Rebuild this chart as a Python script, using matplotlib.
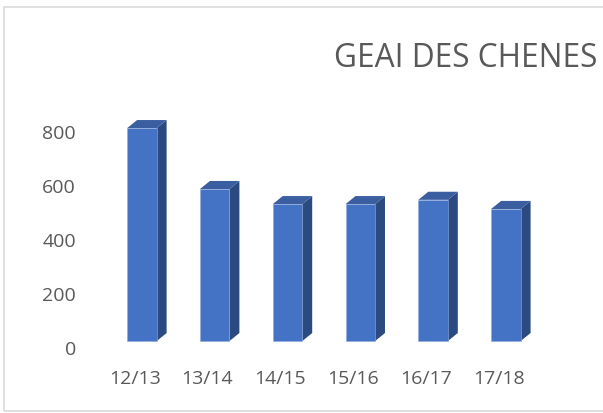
import matplotlib
matplotlib.use("Agg")
import matplotlib.pyplot as plt
from matplotlib.patches import Polygon, Rectangle

# data
seasons = ["12/13", "13/14", "14/15", "15/16", "16/17", "17/18"]
counts = [790, 564, 508, 508, 524, 490]
title = "GEAI DES CHENES"
yticks = [0, 200, 400, 600, 800]

# 3D look
front_col = "#4472C4"
side_col = "#2B4A80"
top_col = "#3A5E9F"
bar_w = 0.405
shift_x = 0.10      # front face offset from category centre
depth_x = 0.137     # side face depth (data x)
depth_y = 30        # side face rise (data y)
base = 22           # front face bottom
txt_col = "#595959"
font = "Open Sans"

fig = plt.figure(figsize=(6.03, 4.14), dpi=100)
fig.patches.append(Rectangle((4 / 603, 2.5 / 414), 1.2, 403.5 / 414,
                             transform=fig.transFigure, fill=False,
                             edgecolor="#D9D9D9", linewidth=1.2))

ax = fig.add_axes([0.1327, 0.1268, 0.8028, 0.6186])
ax.set_xlim(-0.75, 5.9)
ax.set_ylim(-50, 900)

for i, v in enumerate(counts):
    x0 = i + shift_x - bar_w / 2
    x1 = x0 + bar_w
    top = base + v
    # side
    ax.add_patch(Polygon([(x1, base), (x1 + depth_x, base + depth_y),
                          (x1 + depth_x, top + depth_y), (x1, top)],
                         closed=True, facecolor=side_col, edgecolor="none"))
    # top
    ax.add_patch(Polygon([(x0, top), (x0 + depth_x, top + depth_y),
                          (x1 + depth_x, top + depth_y), (x1, top)],
                         closed=True, facecolor=top_col, edgecolor="none"))
    # front
    ax.bar(i + shift_x, v, width=bar_w, bottom=base, color=front_col,
           edgecolor="#8FAADC", linewidth=0.4)

ax.set_xticks(range(len(seasons)))
ax.set_xticklabels(seasons)
ax.set_yticks(yticks)
for s in ax.spines.values():
    s.set_visible(False)
ax.tick_params(axis="both", length=0, colors=txt_col, labelsize=14)
ax.tick_params(axis="y", pad=3)
ax.tick_params(axis="x", pad=6)
for lab in ax.get_xticklabels() + ax.get_yticklabels():
    lab.set_fontfamily(font)

fig.text(466 / 603, 1 - 67 / 414, title, ha="center", va="baseline",
         fontsize=22.8, color=txt_col, fontfamily=font)

fig.savefig("out.png", dpi=100)
